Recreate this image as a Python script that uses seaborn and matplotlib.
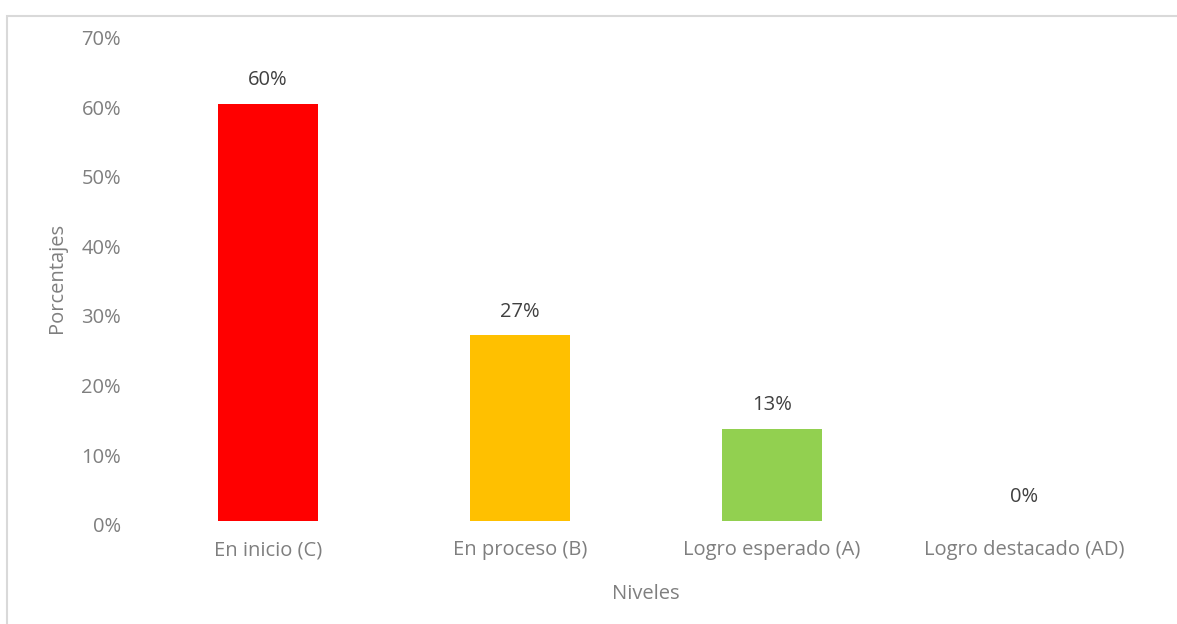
import matplotlib.pyplot as plt
import matplotlib.transforms as mtransforms
import seaborn as sns
import pandas as pd
from matplotlib.patches import Rectangle

niveles = ["En inicio (C)", "En proceso (B)", "Logro esperado (A)", "Logro destacado (AD)"]
porcentajes = [60.0, 26.7, 13.3, 0.0]
colores = ["#FF0000", "#FFC000", "#92D050", "#5B9BD5"]

df = pd.DataFrame({"Niveles": niveles, "Porcentajes": [p / 100 for p in porcentajes]})

sns.set_style("white")
plt.rcParams["font.family"] = ["Open Sans", "DejaVu Sans"]

fig = plt.figure(figsize=(11.77, 6.24), dpi=100)
ax = fig.add_axes([0.1206, 0.165, 0.8564, 0.7797])

sns.barplot(data=df, x="Niveles", y="Porcentajes", hue="Niveles", palette=colores,
            width=0.4, legend=False, ax=ax, saturation=1, linewidth=0)

ax.set_ylim(0, 0.7)
ax.set_yticks([i / 10 for i in range(8)])
ax.set_yticklabels([f"{i * 10}%" for i in range(8)])
ax.tick_params(axis="both", length=0, labelsize=14.5, labelcolor="#7f7f7f")
ax.tick_params(axis="y", pad=15)
ax.tick_params(axis="x", pad=14)
for s in ax.spines.values():
    s.set_visible(False)

# Excel draws the value labels a touch below their gridline
shift = mtransforms.ScaledTranslation(0, -2.5 / 72, fig.dpi_scale_trans)
for lbl in ax.get_yticklabels():
    lbl.set_transform(lbl.get_transform() + shift)

ax.set_xlabel("Niveles", fontsize=14.5, color="#7f7f7f", labelpad=17)
ax.set_ylabel("Porcentajes", fontsize=14.5, color="#7f7f7f", labelpad=10)

for i, p in enumerate(porcentajes):
    ax.annotate(f"{p:.0f}%", (i, p / 100), xytext=(0, 10), textcoords="offset points",
                ha="center", va="bottom", fontsize=14.5, color="#404040")

fig.patches.append(Rectangle((7 / 1177, -0.1), 1.2, (616 - 8) / 624 + 0.1,
                             transform=fig.transFigure, fill=False,
                             edgecolor="#d9d9d9", linewidth=1.5))

fig.savefig("out.png", dpi=100)
